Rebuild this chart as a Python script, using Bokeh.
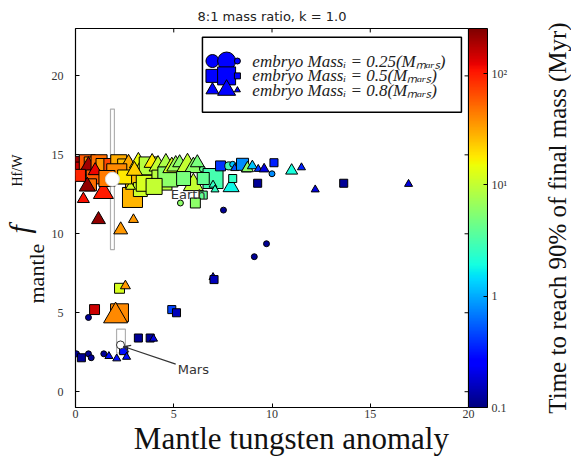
import numpy as np
from bokeh.plotting import figure
from bokeh.layouts import row
from bokeh.models import (ColumnDataSource, LogColorMapper, ColorBar, FixedTicker,
                          LinearAxis, Label, Arrow, OpenHead, Range1d, Title)
from bokeh.core.properties import value
from bokeh.embed import file_html
from bokeh.resources import INLINE

title_text = "8:1 mass ratio, k = 1.0"
x_label = "Mantle tungsten anomaly"
y_label_main = "mantle"
y_label_var = "f"
y_label_sup = "Hf/W"
cbar_label = "Time to reach 90% of final mass (Myr)"
axis_ticks = [0, 5, 10, 15, 20]
cbar_ticks = [0.1, 1, 10, 100]
cbar_tick_labels = ["0.1", "1", "10¹", "10²"]

# data: tungsten anomaly, f Hf/W, time to 90% (Myr), embryo mass (M_Mars), relative final mass
x_vals = [0.15, 0.35, 0.6, 0.9, 0.66, 1.17, 1.37, 1.2, 1.5, 1.9, 0.9, 0.76, 0.6, 1.42, 0.4, 1.17, 2.95, 2.3,
          2.2, 2.5, 2.7, 2.9, 2.95, 3.2, 3.4, 3.3, 3.5, 2.8, 3.7, 3.9, 4.2, 4.4, 4.6, 4.7, 4.9, 5.1, 5.3,
          5.7, 6.0, 6.0, 5.5, 6.46, 2.1, 1.0, 0.2, 1.6, 2.5, 4.0, 3.0, 6.2,
          6.6, 7.0, 6.5, 7.0, 7.1, 6.5, 7.92, 8.0, 7.38, 7.8, 8.0, 8.1, 8.5, 8.7, 8.75, 9.0, 9.3, 9.6,
          10.1, 10.0, 9.27, 11.0, 11.5, 12.2, 13.65, 16.95, 7.53, 9.72, 9.1, 6.1, 5.34, 7.0, 7.05,
          2.24, 2.54, 0.97, 0.66, 2.24, 2.04, 4.9, 5.14, 3.2, 3.8, 3.97,
          0.05, 0.3, 0.66, 0.8, 1.44, 1.7, 2.1, 2.45, 2.6]
y_vals = [14.4, 14.1, 14.5, 14.3, 14.3, 14.4, 13.7, 14.5, 14.2, 14.2, 13.6, 13.1, 13.0, 12.6, 12.2, 10.9, 10.9, 10.25,
          14.5, 14.3, 14.3, 12.3, 13.4, 14.5, 14.1, 12.8, 13.2, 13.0, 14.3, 14.5, 14.3, 13.4, 14.5, 13.6, 14.2, 14.3, 14.5,
          14.3, 14.2, 13.1, 13.5, 14.1, 13.8, 14.0, 13.7, 13.5, 13.6, 13.0, 14.0, 14.5,
          13.7, 13.5, 13.5, 13.1, 12.8, 12.45, 12.96, 13.5, 14.3, 14.3, 14.4, 14.15, 14.4, 14.1, 14.15, 14.3, 14.1, 14.1,
          14.5, 13.8, 13.2, 14.0, 14.2, 12.8, 13.2, 13.15, 11.5, 9.37, 8.55, 11.95, 11.95, 7.25, 7.1,
          6.55, 6.7, 5.2, 4.7, 5.0, 4.8, 5.2, 5.0, 3.4, 3.4, 3.35,
          2.4, 2.15, 2.4, 2.15, 2.4, 2.25, 2.1, 2.6, 2.2]
t_vals = [200, 150, 60, 40, 200, 180, 200, 50, 35, 70, 60, 50, 220, 100, 110, 220, 35, 35,
          30, 25, 30, 28, 25, 15, 12, 11, 12, 12, 9, 18, 10, 9, 8, 6, 12, 7, 6,
          10, 6, 10, 5, 4, 40, 120, 90, 45, 18, 10, 22, 5,
          1.3, 3, 4, 2.5, 2.5, 4, 1.8, 2.5, 0.4, 3, 1.2, 0.5, 0.8, 0.2, 6, 1.2, 0.4, 0.2,
          0.35, 0.8, 0.12, 2, 0.35, 0.2, 0.12, 0.2, 0.12, 0.12, 0.12, 6, 6, 0.25, 0.15,
          12, 35, 150, 0.12, 40, 40, 0.45, 0.15, 0.12, 0.12, 0.2,
          0.12, 0.12, 0.12, 0.12, 0.12, 0.3, 0.3, 0.3, 0.3]
embryo_mass = [0.5, 0.5, 0.5, 0.5, 0.8, 0.8, 0.8, 0.5, 0.5, 0.5, 0.5, 0.5, 0.8, 0.8, 0.8, 0.8, 0.8, 0.8,
               0.5, 0.5, 0.8, 0.5, 0.5, 0.8, 0.8, 0.5, 0.5, 0.8, 0.5, 0.8, 0.8, 0.5, 0.8, 0.5, 0.8, 0.8, 0.8,
               0.8, 0.8, 0.8, 0.5, 0.25, 0.5, 0.8, 0.5, 0.5, 0.5, 0.5, 0.8, 0.8,
               0.8, 0.5, 0.5, 0.8, 0.8, 0.5, 0.8, 0.5, 0.5, 0.25, 0.25, 0.8, 0.5, 0.8, 0.8, 0.8, 0.8, 0.8,
               0.5, 0.25, 0.5, 0.8, 0.8, 0.8, 0.5, 0.8, 0.25, 0.25, 0.25, 0.5, 0.25, 0.8, 0.5,
               0.5, 0.8, 0.5, 0.25, 0.5, 0.8, 0.5, 0.5, 0.5, 0.5, 0.8,
               0.25, 0.5, 0.25, 0.25, 0.25, 0.8, 0.8, 0.5, 0.8]
final_mass = [0.58, 0.47, 0.58, 0.68, 0.58, 0.47, 0.68, 0.58, 0.68, 0.68, 0.47, 0.37, 0.58, 0.79, 0.37, 0.47, 0.26, 0.47,
              0.58, 0.47, 0.79, 0.79, 0.58, 0.68, 0.79, 0.47, 0.58, 0.26, 0.68, 0.58, 0.68, 0.79, 0.58, 0.79, 0.68, 0.68, 0.47,
              0.89, 0.68, 0.79, 0.47, 0.05, 0.79, 0.47, 0.37, 0.58, 0.47, 0.58, 0.58, 0.47,
              0.37, 0.79, 0.37, 0.16, 0.16, 0.16, 0.58, 0.16, 0.26, 0.16, 0.05, 0.16, 0.37, 0.26, 0.37, 0.26, 0.16, 0.26,
              0.16, 0.05, 0.16, 0.37, 0.16, 0.16, 0.16, 0.16, 0.05, 0.05, 0.05, 0.26, 0.05, 0.16, 0.16,
              0.26, 0.26, 0.26, 0.05, 0.68, 1.0, 0.16, 0.16, 0.16, 0.16, 0.16,
              0.05, 0.16, 0.05, 0.05, 0.05, 0.16, 0.16, 0.16, 0.16]

# reference planets
ref_names = ["Earth", "Mars"]
ref_x = [1.88, 2.29]
ref_y = [13.45, 2.96]
ref_x_lo = [1.78, 2.09]
ref_x_hi = [1.98, 2.54]
ref_y_lo = [9.0, 2.45]
ref_y_hi = [17.9, 3.96]

legend_masses = [0.25, 0.5, 0.8]
marker_of = {0.25: "circle", 0.5: "square", 0.8: "triangle"}


def jet_palette(n=256):
    v = np.linspace(0, 1, n)
    r = np.interp(v, [0, 0.35, 0.66, 0.89, 1], [0, 0, 1, 1, 0.5])
    g = np.interp(v, [0, 0.125, 0.375, 0.64, 0.91, 1], [0, 0, 1, 1, 0, 0])
    b = np.interp(v, [0, 0.11, 0.34, 0.65, 1], [0.5, 1, 1, 0, 0])
    return ["#%02x%02x%02x" % (int(a * 255), int(c * 255), int(d * 255)) for a, c, d in zip(r, g, b)]


mapper = LogColorMapper(palette=jet_palette(), low=0.1, high=254)

src = ColumnDataSource(dict(
    x=x_vals, y=y_vals, t=t_vals,
    marker=[marker_of[m] for m in embryo_mass],
    size=[5 + 19 * m for m in final_mass],
))

serif = "Liberation Serif"
XR = (0, 20)
YR = (-1, 23)
p = figure(width=540, height=458, x_range=Range1d(*XR), y_range=Range1d(*YR),
           output_backend="svg", toolbar_location=None,
           min_border_left=75, min_border_right=72, min_border_top=28, min_border_bottom=5)
p.grid.visible = False
p.outline_line_color = "black"
p.outline_line_width = 1.2
p.background_fill_color = "white"
p.border_fill_color = "white"

p.title.text = title_text
p.title.align = "center"
p.title.text_font = "DejaVu Sans"
p.title.text_font_style = "normal"
p.title.text_font_size = "13px"
p.title.text_color = "#222222"

for ax in [p.xaxis[0], p.yaxis[0]]:
    ax.ticker = FixedTicker(ticks=axis_ticks)
    ax.major_tick_in = 4
    ax.major_tick_out = 0
    ax.minor_tick_line_color = None
    ax.axis_line_color = None
    ax.major_label_text_font = serif
    ax.major_label_text_font_size = "12px"
    ax.major_label_text_color = "#333333"
    ax.axis_label_text_font = serif
    ax.axis_label_text_font_style = "normal"
    ax.axis_label_text_color = "#111111"
p.xaxis.axis_label = "\u00a0" * 5 + x_label
p.xaxis.axis_label_text_font_size = "31px"
p.xaxis.major_label_standoff = 2
p.xaxis.axis_label_standoff = 0
p.yaxis.major_label_standoff = 12

# y-axis label pieces as side titles reading bottom-to-top
p.add_layout(Title(text=y_label_main, text_font=serif, text_font_size="22px", text_font_style="normal",
                   text_color="#111111", align="left", offset=104, standoff=0), "left")
p.add_layout(Title(text=y_label_var, text_font=serif, text_font_size="30px", text_font_style="italic",
                   text_color="#111111", align="left", offset=174, standoff=-28), "left")
p.add_layout(Title(text=y_label_sup, text_font=serif, text_font_size="14px", text_font_style="normal",
                   text_color="#111111", align="left", offset=221, standoff=-20), "left")

# mirrored inward ticks on top and right
tx = [t for t in axis_ticks if XR[0] < t < XR[1]]
p.segment(x0=tx, x1=tx, y0=[YR[1]] * len(tx), y1=[YR[1] - 0.25] * len(tx), line_color="black", line_width=1)
ty = [t for t in axis_ticks if YR[0] < t < YR[1]]
p.segment(x0=[XR[1]] * len(ty), x1=[XR[1] - 0.2] * len(ty), y0=ty, y1=ty, line_color="black", line_width=1)

# reference boxes
p.quad(left=ref_x_lo, right=ref_x_hi, bottom=ref_y_lo, top=ref_y_hi,
       fill_color="white", fill_alpha=0.6, line_color="#b0b0b0", line_width=1.2, level="glyph")

p.scatter(x="x", y="y", source=src, marker="marker", size="size",
          fill_color={"field": "t", "transform": mapper}, line_color="black", line_width=1)

p.scatter(x=ref_x[:1], y=ref_y[:1], size=14, fill_color="white", line_color="#dddddd")
p.scatter(x=ref_x[1:], y=ref_y[1:], size=8, fill_color="white", line_color="#333333")

p.add_layout(Label(x=4.85, y=12.5, text=ref_names[0], text_font="DejaVu Sans",
                   text_font_size="13px", text_color="#333333", text_baseline="middle"))
p.add_layout(Label(x=5.2, y=1.4, text=ref_names[1], text_font="DejaVu Sans",
                   text_font_size="13px", text_color="#333333", text_baseline="middle"))
p.add_layout(Arrow(end=OpenHead(size=7, line_color="#333333", line_width=1.2),
                   x_start=5.1, y_start=1.75, x_end=ref_x[1] + 0.15, y_end=ref_y[1] - 0.1,
                   line_color="#333333", line_width=1.2))

# legend (drawn manually to show three marker sizes)
p.quad(left=[6.46], right=[19.64], bottom=[17.7], top=[22.45], fill_color="white", line_color="black", line_width=1.5)
leg_y = [20.94, 20.0, 19.1]
for m, ly in zip(legend_masses, leg_y):
    mk = marker_of[m]
    p.scatter(x=[6.97, 7.69, 8.24], y=[ly] * 3, size=[13, 18, 6], marker=mk, fill_color="#0000ff", line_color="black")
    p.text(x=[9.0], y=[ly], text=["embryo Massᵢ = %s(Mₘₐᵣₛ)" % m], text_font=value(serif),
           text_font_style="italic", text_font_size="17px", text_baseline="middle", text_color="#222222")

# right side: spacer, colour bar
spacer = LinearAxis(ticker=FixedTicker(ticks=[]), axis_line_color=None, major_tick_out=25,
                    major_tick_in=0, major_tick_line_color=None)
p.add_layout(spacer, "right")

cbar = ColorBar(color_mapper=mapper, width=19, padding=0, margin=0,
                ticker=FixedTicker(ticks=cbar_ticks),
                major_label_overrides=dict(zip(cbar_ticks, cbar_tick_labels)),
                major_label_text_font=serif, major_label_text_font_size="12px",
                major_label_text_color="#333333", label_standoff=4,
                major_tick_in=4, major_tick_out=0, major_tick_line_color="black",
                minor_tick_line_color=None, bar_line_color="black")
p.add_layout(cbar, "right")

# colour bar label: narrow companion figure whose left axis label reads bottom-to-top
q = figure(width=31, height=458, x_range=Range1d(0, 1), y_range=Range1d(0, 1),
           output_backend="svg", toolbar_location=None,
           min_border_left=0, min_border_right=0, min_border_top=28, min_border_bottom=5)
q.outline_line_color = None
q.grid.visible = False
q.xaxis.visible = False
q.yaxis.ticker = FixedTicker(ticks=[])
q.yaxis.axis_line_color = None
q.yaxis.major_tick_out = 0
q.yaxis.major_tick_in = 0
q.yaxis.axis_label = cbar_label
q.yaxis.axis_label_text_font = serif
q.yaxis.axis_label_text_font_size = "25px"
q.yaxis.axis_label_text_font_style = "normal"
q.yaxis.axis_label_text_color = "#111111"
q.yaxis.axis_label_standoff = 0
q.border_fill_color = "white"
q.background_fill_color = "white"

layout = row(p, q, spacing=0)
open("out.html", "w").write(file_html(layout, INLINE))
